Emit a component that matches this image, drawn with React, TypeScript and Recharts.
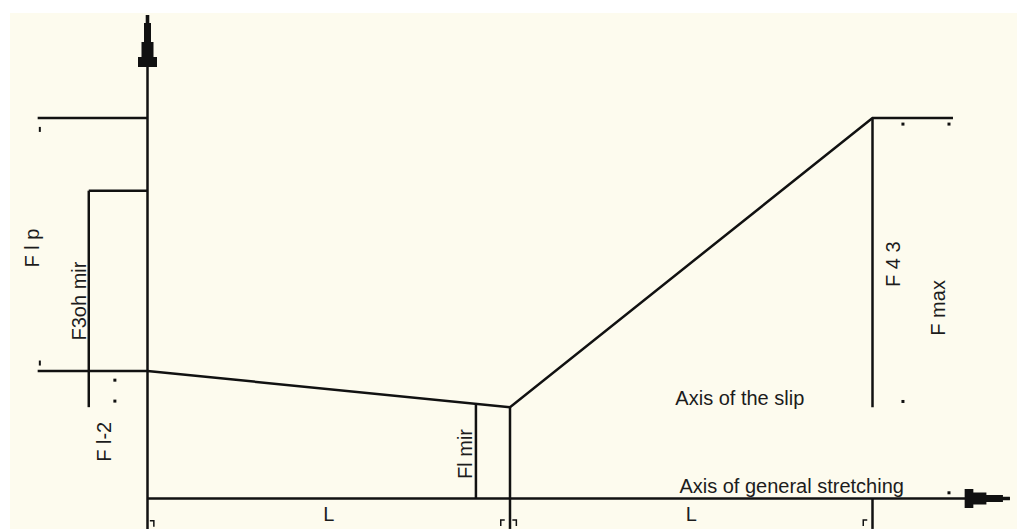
import React from 'react'
import {
  ComposedChart,
  Line,
  Scatter,
  XAxis,
  YAxis,
  ReferenceLine,
} from 'recharts'

// x in units of L (0 = start of slip zone), y in % of F max
const F_MAX = 100
const F_3OH_MIR = 80.9
const F_L2 = 33.5
const F_L_MIR = 24
const F_L_MIR_AT_GAUGE = 24.9
const X_GAUGE = 0.906
const X_TOP_END = 2.222

const forceProfile = [
  { x: 0, y: F_L2 },
  { x: 1, y: F_L_MIR },
  { x: 2, y: F_MAX },
  { x: X_TOP_END, y: F_MAX },
]

// construction lines: [x1, y1, x2, y2]
const guides: [number, number, number, number][] = [
  [-0.303, F_MAX, 0, F_MAX],
  [-0.162, F_3OH_MIR, 0, F_3OH_MIR],
  [-0.162, F_3OH_MIR, -0.162, F_L_MIR],
  [-0.303, F_L2, 0, F_L2],
  [X_GAUGE, 0, X_GAUGE, F_L_MIR_AT_GAUGE],
  [1, -8, 1, F_L_MIR],
  [2, F_L_MIR, 2, F_MAX],
  [2, -8, 2, 0],
]

const axisLines: [number, number, number, number][] = [
  [0, -8, 0, 127],
  [0, 0, 2.379, 0],
]

const arrows = [
  { x: 0, y: 127.1, dir: 'up' },
  { x: 2.379, y: 0, dir: 'right' },
]

const dots = [
  { x: -0.09, y: 31.1 },
  { x: -0.09, y: 25.6 },
  { x: 2.084, y: 98.4 },
  { x: 2.211, y: 98.4 },
  { x: 2.084, y: 25.5 },
  { x: 2.211, y: 1.5 },
]

const ticks = [
  { x: -0.297, y: 97.0, kind: 'bar' },
  { x: -0.297, y: 35.6, kind: 'bar' },
  { x: 0.012, y: -6.4, kind: 'right' },
  { x: 0.98, y: -6.2, kind: 'left' },
  { x: 1.012, y: -6.2, kind: 'right' },
  { x: 1.98, y: -6.2, kind: 'left' },
]

const labels = [
  { x: -0.319, y: 65.8, text: 'F l p', rot: true },
  { x: -0.189, y: 51.9, text: 'F3oh mir', rot: true },
  { x: -0.12, y: 14.9, text: 'F l-2', rot: true },
  { x: 0.876, y: 11.7, text: 'Fl mir', rot: true },
  { x: 2.056, y: 61.6, text: 'F 4 3', rot: true },
  { x: 2.181, y: 50.1, text: 'F max', rot: true },
  { x: 1.634, y: 26.4, text: 'Axis of the slip', rot: false },
  { x: 1.777, y: 3.3, text: 'Axis of general stretching', rot: false },
  { x: 0.5, y: -4.1, text: 'L', rot: false },
  { x: 1.5, y: -4.1, text: 'L', rot: false },
]

const W = 1017
const H = 529
const ORIGIN_X = 147.5
const ORIGIN_Y = 498.5
const PX_PER_L = 362.5
const PX_PER_F = 3.805
const INK = '#111'
const LINE_W = 2.5
const FONT = '"Liberation Sans", Arial, sans-serif'

const xDomain = [-ORIGIN_X / PX_PER_L, (W - ORIGIN_X) / PX_PER_L]
const yDomain = [(ORIGIN_Y - H) / PX_PER_F, ORIGIN_Y / PX_PER_F]

const upArrow = [
  [0, 0], [1.8, 0], [1.8, 8], [3.5, 8], [3.5, 27], [6, 27], [6, 42], [9.5, 42], [9.5, 52],
  [-9.5, 52], [-9.5, 42], [-6, 42], [-6, 27], [-3.5, 27], [-3.5, 8], [-1.8, 8], [-1.8, 0],
]

function ArrowShape(props: any) {
  const { cx, cy, payload } = props
  const pts = upArrow
    .map(([a, b]) => (payload.dir === 'up' ? [cx + a, cy + b] : [cx - b * 0.87, cy + a]))
    .map(p => p.join(','))
    .join(' ')
  return <polygon points={pts} fill={INK} />
}

function DotShape(props: any) {
  return <rect x={props.cx - 1.5} y={props.cy - 1.5} width={3} height={3} fill={INK} />
}

function TickShape(props: any) {
  const { cx, cy, payload } = props
  if (payload.kind === 'bar') {
    return <rect x={cx - 1} y={cy - 2.5} width={2} height={5} fill={INK} />
  }
  const d = payload.kind === 'right'
    ? `M${cx - 2},${cy - 2} H${cx + 2} V${cy + 4}`
    : `M${cx + 2},${cy - 2} H${cx - 2} V${cy + 4}`
  return <path d={d} stroke={INK} strokeWidth={1.5} fill="none" />
}

function LabelShape(props: any) {
  const { cx, cy, payload } = props
  return (
    <text
      x={cx}
      y={cy}
      textAnchor="middle"
      dominantBaseline="central"
      transform={payload.rot ? `rotate(-90, ${cx}, ${cy})` : undefined}
      fontFamily={FONT}
      fontSize={20}
      fill="#1c1c1c"
    >
      {payload.text}
    </text>
  )
}

export default function App() {
  return (
    <div
      style={{
        position: 'fixed',
        left: 0,
        top: 0,
        width: W,
        height: H,
        background: '#fff',
      }}
    >
      <div
        style={{
          position: 'absolute',
          left: 10,
          top: 13,
          right: 0,
          bottom: 0,
          background: '#fdfbee',
        }}
      />
      <div style={{ position: 'absolute', left: 0, top: 0 }}>
        <ComposedChart
          width={W}
          height={H}
          margin={{ top: 0, right: 0, bottom: 0, left: 0 }}
        >
          <XAxis type="number" dataKey="x" domain={xDomain} hide allowDataOverflow />
          <YAxis type="number" dataKey="y" domain={yDomain} hide allowDataOverflow />
          {[...axisLines, ...guides].map(([x1, y1, x2, y2], i) => (
            <ReferenceLine
              key={i}
              segment={[{ x: x1, y: y1 }, { x: x2, y: y2 }]}
              stroke={INK}
              strokeWidth={LINE_W}
              ifOverflow="visible"
            />
          ))}
          <Line
            data={forceProfile}
            dataKey="y"
            type="linear"
            stroke={INK}
            strokeWidth={LINE_W}
            dot={false}
            isAnimationActive={false}
          />
          <Scatter data={arrows} shape={ArrowShape} isAnimationActive={false} />
          <Scatter data={dots} shape={DotShape} isAnimationActive={false} />
          <Scatter data={ticks} shape={TickShape} isAnimationActive={false} />
          <Scatter data={labels} shape={LabelShape} isAnimationActive={false} />
        </ComposedChart>
      </div>
    </div>
  )
}
